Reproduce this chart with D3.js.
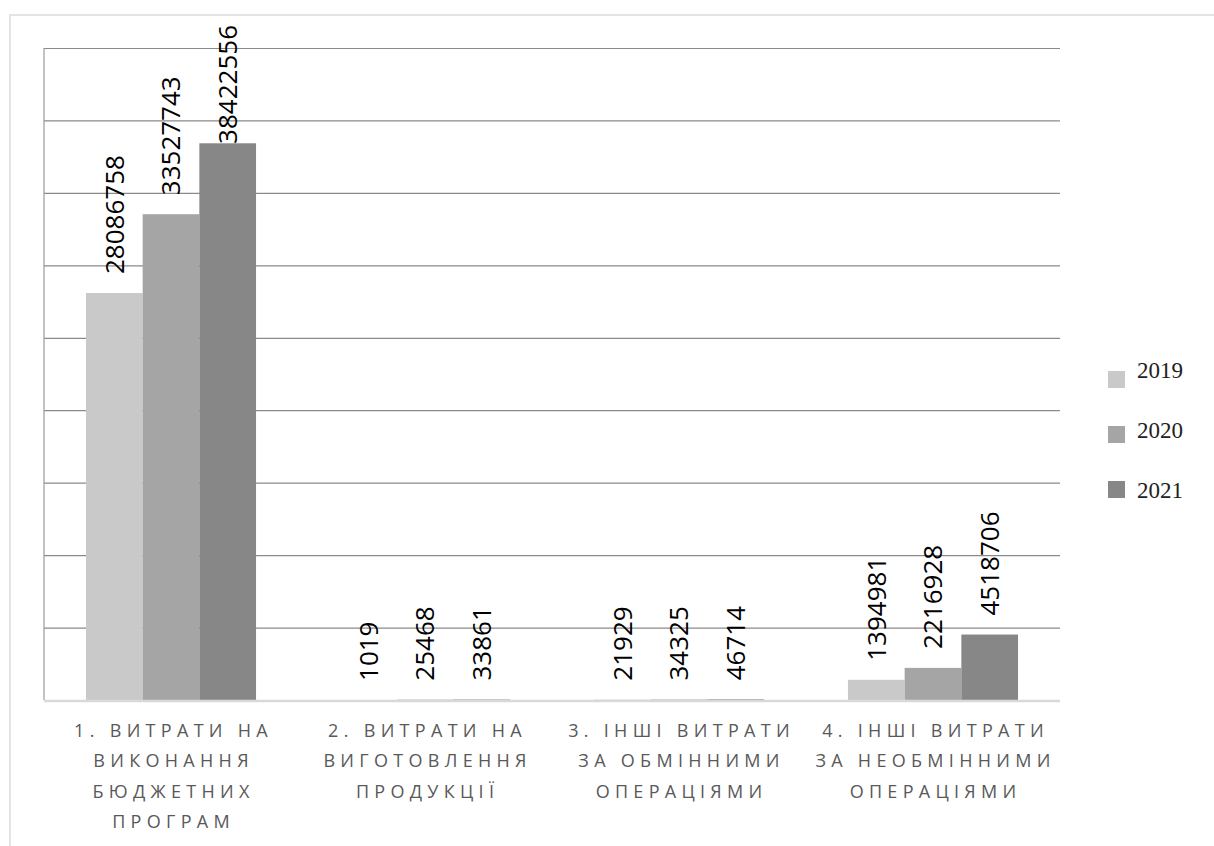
<!DOCTYPE html>
<html>
<head>
<meta charset="utf-8">
<script src="https://cdn.jsdelivr.net/npm/d3@7"></script>
<style>
  html, body { margin: 0; padding: 0; background: #fff; }
  svg { display: block; }
</style>
</head>
<body>
<div id="chart"></div>
<script>
// categories (one line per array entry) and series values
var categories = [
  ['1. ВИТРАТИ НА', 'ВИКОНАННЯ', 'БЮДЖЕТНИХ', 'ПРОГРАМ'],
  ['2. ВИТРАТИ НА', 'ВИГОТОВЛЕННЯ', 'ПРОДУКЦІЇ'],
  ['3. ІНШІ ВИТРАТИ', 'ЗА ОБМІННИМИ', 'ОПЕРАЦІЯМИ'],
  ['4. ІНШІ ВИТРАТИ', 'ЗА НЕОБМІННИМИ', 'ОПЕРАЦІЯМИ']
];
var years = ['2019', '2020', '2021'];
var values2019 = [28086758, 1019, 21929, 1394981];
var values2020 = [33527743, 25468, 34325, 2216928];
var values2021 = [38422556, 33861, 46714, 4518706];
var yTicks = [0, 5000000, 10000000, 15000000, 20000000, 25000000, 30000000, 35000000, 40000000, 45000000];

(function() {
  var width = 1214, height = 846;
  var plotLeft = 44, plotRight = 1060, plotTop = 48, plotBottom = 700;
  var colors = ['#c9c9c9', '#a5a5a5', '#878787'];
  var series = [values2019, values2020, values2021];

  var svg = d3.select('#chart').append('svg')
    .attr('width', width)
    .attr('height', height);

  // outer chart border (only top and left visible)
  svg.append('rect')
    .attr('x', 10).attr('y', 15)
    .attr('width', width + 20).attr('height', height + 20)
    .attr('fill', 'none')
    .attr('stroke', '#e4e4e4')
    .attr('stroke-width', 2);

  var catIds = categories.map(function(c, i) { return i; });
  var x0 = d3.scaleBand().domain(catIds).range([plotLeft, plotRight]);
  var x1 = d3.scaleBand().domain(years).range([0, x0.bandwidth()]).paddingOuter(0.74);
  var y = d3.scaleLinear().domain([0, yTicks[yTicks.length - 1]]).range([plotBottom, plotTop]);

  // gridlines
  svg.append('g')
    .attr('transform', 'translate(' + plotLeft + ',0)')
    .call(d3.axisLeft(y).tickValues(yTicks.slice(1)).tickSize(-(plotRight - plotLeft)).tickFormat(''))
    .call(function(g) {
      g.select('.domain').remove();
      g.selectAll('line').attr('stroke', '#8a8a8a').attr('stroke-width', 1.2);
    });

  // left axis line
  svg.append('line')
    .attr('x1', plotLeft).attr('x2', plotLeft)
    .attr('y1', y(yTicks[yTicks.length - 1])).attr('y2', y(0))
    .attr('stroke', '#9a9a9a').attr('stroke-width', 1.2);

  function rows(c) {
    return years.map(function(yr, i) { return {year: yr, i: i, value: series[i][c]}; });
  }

  // bars
  var groups = svg.selectAll('g.cat')
    .data(catIds)
    .enter().append('g')
    .attr('class', 'cat')
    .attr('transform', function(d) { return 'translate(' + x0(d) + ',0)'; });

  groups.selectAll('rect')
    .data(rows)
    .enter().append('rect')
    .attr('x', function(d) { return x1(d.year); })
    .attr('width', x1.bandwidth())
    .attr('y', function(d) { return y(d.value); })
    .attr('height', function(d) { return y(0) - y(d.value); })
    .attr('fill', function(d) { return colors[d.i]; });

  // bottom axis line
  svg.append('line')
    .attr('x1', plotLeft).attr('x2', plotRight)
    .attr('y1', y(0) + 1).attr('y2', y(0) + 1)
    .attr('stroke', '#d9d9d9').attr('stroke-width', 2.5);

  // value labels, rotated, kept inside the chart area
  groups.selectAll('text.value')
    .data(rows)
    .enter().append('text')
    .attr('class', 'value')
    .attr('font-family', 'Open Sans, sans-serif')
    .attr('font-size', 26)
    .attr('fill', '#000')
    .attr('dy', '0.36em')
    .text(function(d) { return d.value; })
    .attr('transform', function(d) {
      var len = this.getComputedTextLength();
      var cx = x1(d.year) + x1.bandwidth() / 2;
      var yb = Math.max(y(d.value) - 19, 25 + len);
      return 'translate(' + cx + ',' + yb + ') rotate(-90)';
    });

  // category labels
  groups.append('text')
    .attr('font-family', 'Open Sans, sans-serif')
    .attr('font-size', 18)
    .attr('fill', '#595959')
    .attr('letter-spacing', '5.3px')
    .attr('text-anchor', 'middle')
    .selectAll('tspan')
    .data(function(c) { return categories[c]; })
    .enter().append('tspan')
    .attr('x', x0.bandwidth() / 2 + 2.6)
    .attr('y', function(d, i) { return 737 + i * 30.4; })
    .text(function(d) { return d; });

  // legend
  var legend = svg.selectAll('g.legend')
    .data(years)
    .enter().append('g')
    .attr('class', 'legend');

  legend.append('rect')
    .attr('x', 1108)
    .attr('y', function(d, i) { return 371 + i * 55; })
    .attr('width', 17).attr('height', 17)
    .attr('fill', function(d, i) { return colors[i]; });

  legend.append('text')
    .attr('x', 1137)
    .attr('y', function(d, i) { return 378 + i * 60; })
    .attr('font-family', 'Liberation Serif, serif')
    .attr('font-size', 23)
    .attr('fill', '#222')
    .text(function(d) { return d; });
})();
</script>
</body>
</html>
